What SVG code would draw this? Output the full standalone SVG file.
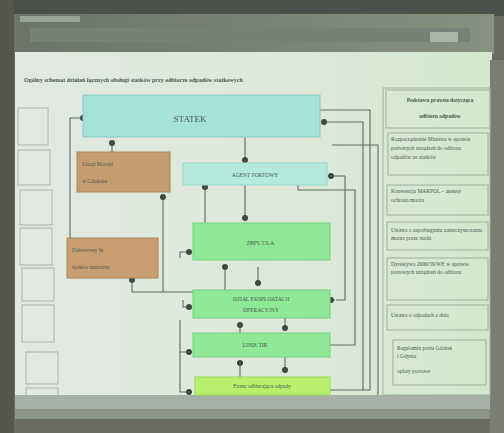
<svg xmlns="http://www.w3.org/2000/svg" width="504" height="433" viewBox="0 0 504 433">
<defs>
<linearGradient id="scr" x1="0" y1="0" x2="1" y2="0">
<stop offset="0" stop-color="#e2e8e2"/><stop offset="0.6" stop-color="#dde9da"/><stop offset="1" stop-color="#d2e9cc"/>
</linearGradient>
<linearGradient id="tb" x1="0" y1="0" x2="1" y2="0">
<stop offset="0" stop-color="#6c746a"/><stop offset="1" stop-color="#86917f"/>
</linearGradient>
<marker id="dot" viewBox="0 0 6 6" refX="3" refY="3" markerWidth="6" markerHeight="6" markerUnits="userSpaceOnUse">
<circle cx="3" cy="3" r="3" fill="#3d4a44"/>
</marker>
<style>
.t{font-family:"Liberation Serif",serif;fill:#4a5a50}
.s{font-size:5.5px}
.m{font-size:9px}
.b{font-weight:bold}
.c{stroke:#5d6a62;stroke-width:1.1;fill:none}
.cd{stroke:#5d6a62;stroke-width:1.1;fill:none;marker-end:url(#dot)}
.lb{fill:none;stroke:#aab4ab;stroke-width:1}
.rb{fill:none;stroke:#9eb09c;stroke-width:1}
</style>
</defs>
<!-- frame / photo -->
<rect width="504" height="433" fill="#6a6c64"/>
<rect x="0" y="0" width="504" height="16" fill="#4c504a"/>
<rect x="14" y="14" width="480" height="40" fill="url(#tb)"/>
<rect x="20" y="16" width="60" height="6" fill="#9aa49a"/>
<rect x="30" y="28" width="440" height="14" fill="#768275"/>
<rect x="430" y="32" width="28" height="10" fill="#a8b8a6"/>
<rect x="15" y="52" width="477" height="348" fill="url(#scr)"/>
<rect x="15" y="395" width="477" height="14" fill="#a7b0a6"/>
<rect x="15" y="409" width="477" height="10" fill="#8c9488"/>
<rect x="0" y="0" width="14" height="433" fill="#56564f"/>
<rect x="490" y="60" width="14" height="373" fill="#7b7e74"/>
<!-- title -->
<text class="t" x="24" y="82" font-size="6" font-weight="bold" fill="#4e5e52">Ogólny schemat działań łącznych obsługi statków przy odbiorze odpadów statkowych</text>
<!-- left cut boxes -->
<g id="left-boxes">
<rect class="lb" x="18" y="108" width="30" height="37"/>
<rect class="lb" x="18" y="150" width="32" height="35"/>
<rect class="lb" x="20" y="190" width="32" height="35"/>
<rect class="lb" x="20" y="228" width="32" height="37"/>
<rect class="lb" x="22" y="268" width="32" height="33"/>
<rect class="lb" x="22" y="305" width="32" height="37"/>
<rect class="lb" x="26" y="352" width="32" height="32"/>
<rect class="lb" x="26" y="388" width="32" height="10"/>
</g>
<!-- connectors -->
<g id="connectors">
<polyline class="cd" points="70,270 70,118 83,118"/>
<polyline class="cd" points="112,152 112,143"/>
<polyline class="cd" points="245,137 245,160"/>
<polyline class="c" points="320,110 370,110 370,390 330,390"/>
<polyline class="cd" points="363,390 363,122 324,122"/>
<polyline class="cd" points="345,176 331,176"/>
<polyline class="c" points="345,176 345,300 336,300"/>
<polyline class="cd" points="205,223 205,187"/>
<polyline class="cd" points="245,185 245,218"/>
<polyline class="c" points="298,185 298,190 355,190 355,345 330,345"/>
<polyline class="cd" points="163,292 163,197"/>
<polyline class="cd" points="180,258 180,252 189,252"/>
<polyline class="cd" points="132,292 132,280"/>
<polyline class="c" points="132,292 193,292"/>
<polyline class="cd" points="225,290 225,267"/>
<polyline class="cd" points="258,267 258,283"/>
<polyline class="cd" points="183,300 183,307 189,307"/>
<polyline class="cd" points="180,320 180,352 189,352"/>
<polyline class="cd" points="180,352 180,392 189,392"/>
<polyline class="cd" points="240,333 240,325"/>
<polyline class="cd" points="285,318 285,328"/>
<polyline class="cd" points="240,377 240,363"/>
<polyline class="cd" points="285,357 285,370"/>
<polyline class="cd" points="335,300 331,300"/>
<polyline class="c" points="332,145 378,145 378,395"/>
</g>
<!-- nodes -->
<g id="statek">
<rect x="83" y="95" width="237" height="42" fill="#a6e2da" stroke="#8cc8c0"/>
<text class="t m" x="190" y="122" text-anchor="middle">STATEK</text>
</g>
<g id="urzad-morski">
<rect x="77" y="152" width="93" height="40" fill="#c59c70" stroke="#a88658"/>
<text class="t s" x="82" y="166">Urząd Morski</text>
<text class="t s" x="82" y="183">w Gdańsku</text>
</g>
<g id="agent">
<rect x="183" y="163" width="144" height="22" fill="#b4eade" stroke="#98d6c8"/>
<text class="t s" x="255" y="177" text-anchor="middle">AGENT PORTOWY</text>
</g>
<g id="zbps">
<rect x="193" y="223" width="137" height="37" fill="#8ee896" stroke="#78d080"/>
<text class="t s" x="261" y="245" text-anchor="middle">ZBPS T.S.A.</text>
</g>
<g id="inspekcja">
<rect x="67" y="238" width="91" height="40" fill="#c99e72" stroke="#a88658"/>
<text class="t s" x="72" y="252">Państwowy In</text>
<text class="t s" x="72" y="269">spektor sanitarny</text>
</g>
<g id="dzial">
<rect x="193" y="290" width="137" height="28" fill="#8ee896" stroke="#78d080"/>
<text class="t s" x="261" y="301" text-anchor="middle">DZIAŁ EKSPLOATACJI</text>
<text class="t s" x="261" y="312" text-anchor="middle">OPERACYJNY</text>
</g>
<g id="linie">
<rect x="193" y="333" width="137" height="24" fill="#8ee896" stroke="#78d080"/>
<text class="t s" x="255" y="347" text-anchor="middle">LINIE TIR</text>
</g>
<g id="firma">
<rect x="195" y="377" width="135" height="18" fill="#b6f06c" stroke="#9cd858"/>
<text class="t s" x="262" y="388" text-anchor="middle">Firma odbierająca odpady</text>
</g>
<!-- right panel -->
<g id="right-panel">
<rect class="rb" x="383" y="88" width="107" height="307"/>
<rect class="rb" x="386" y="90" width="104" height="38"/>
<text class="t s b" x="440" y="102" text-anchor="middle">Podstawa prawna dotycząca</text>
<text class="t s b" x="440" y="118" text-anchor="middle">odbioru odpadów</text>
<rect class="rb" x="388" y="133" width="100" height="42"/>
<text class="t s" x="391" y="141">Rozporządzenie Ministra w sprawie</text>
<text class="t s" x="391" y="150">portowych urządzeń do odbioru</text>
<text class="t s" x="391" y="159">odpadów ze statków</text>
<rect class="rb" x="387" y="185" width="101" height="30"/>
<text class="t s" x="391" y="193">Konwencja MARPOL – aneksy</text>
<text class="t s" x="391" y="202">ochrona morza</text>
<rect class="rb" x="387" y="222" width="101" height="28"/>
<text class="t s" x="391" y="232">Ustawa o zapobieganiu zanieczyszczaniu</text>
<text class="t s" x="391" y="240">morza przez statki</text>
<rect class="rb" x="387" y="258" width="101" height="42"/>
<text class="t s" x="391" y="266">Dyrektywa 2000/59/WE w sprawie</text>
<text class="t s" x="391" y="274">portowych urządzeń do odbioru</text>
<rect class="rb" x="387" y="305" width="101" height="25"/>
<text class="t s" x="391" y="317">Ustawa o odpadach z dnia</text>
<rect class="rb" x="393" y="340" width="93" height="45"/>
<text class="t s" x="397" y="350">Regulamin portu Gdańsk</text>
<text class="t s" x="397" y="358">i Gdynia</text>
<text class="t s" x="397" y="373">opłaty portowe</text>
</g>
</svg>
